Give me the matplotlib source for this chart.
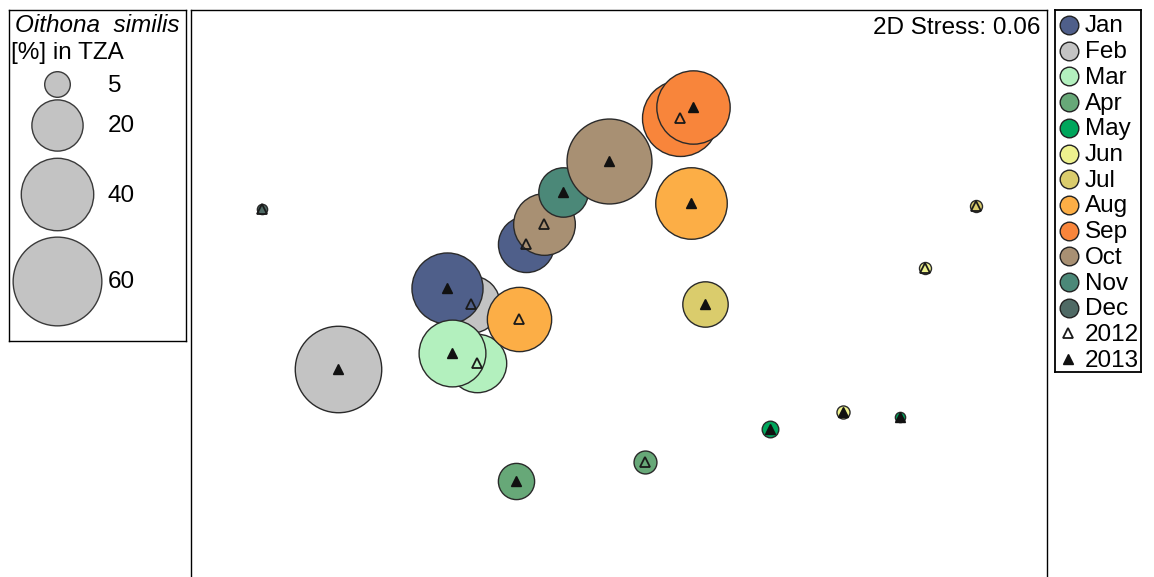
import matplotlib
matplotlib.use("Agg")
import matplotlib.pyplot as plt

plt.rcParams['font.family'] = ['Liberation Sans', 'DejaVu Sans']

# Month colours
months = ["Jan", "Feb", "Mar", "Apr", "May", "Jun",
          "Jul", "Aug", "Sep", "Oct", "Nov", "Dec"]
month_colors = ["#4f5f8a", "#c3c3c3", "#b3f0be", "#67a878", "#00a65c", "#eef28e",
                "#dacc6c", "#fcae46", "#f8853b", "#a89073", "#4b8878", "#4f6a65"]

# NMDS ordination of samples (drawing order)
sample_month = ["Feb", "Jan", "Oct", "Mar", "Aug", "Sep", "Apr", "Jun", "Jul", "Dec",
                "Feb", "Jan", "Mar", "Nov", "Oct", "Sep", "Aug", "Jul", "Apr",
                "May", "Jun", "May"]
sample_year = [2012, 2012, 2012, 2012, 2012, 2012, 2012, 2012, 2012, 2012,
               2013, 2013, 2013, 2013, 2013, 2013, 2013, 2013, 2013,
               2013, 2013, 2013]
nmds1 = [-0.516, -0.296, -0.224, -0.492, -0.324, 0.320, 0.180, 1.300, 1.504, -1.352,
         -1.048, -0.612, -0.592, -0.148, 0.036, 0.372, 0.364, 0.420, -0.336,
         0.680, 0.972, 1.200]
nmds2 = [0.024, 0.264, 0.344, -0.212, -0.036, 0.768, -0.608, 0.168, 0.416, 0.404,
         -0.236, 0.088, -0.172, 0.472, 0.596, 0.812, 0.428, 0.024, -0.684,
         -0.476, -0.408, -0.428]
# Oithona similis share of total zooplankton abundance [%]
oithona_pct = [25, 24, 29, 26, 31.5, 44, 4, 1.1, 1.1, 0.8,
               57, 38.5, 34, 18.6, 55, 41, 39, 15.7, 10,
               2.1, 1.3, 0.8]

size_levels = [5, 20, 40, 60]
stress_text = "2D Stress: 0.06"

SIZE_K = 68.0  # marker area (pt^2) per percent
FS = 17.5


def bubble(v):
    return SIZE_K * v


W, H = 1154, 577
fig = plt.figure(figsize=(W / 100, H / 100), dpi=100)


def px_axes(x0, y0, x1, y1):
    return fig.add_axes([x0 / W, 1 - y1 / H, (x1 - x0) / W, (y1 - y0) / H])


# ---- main ordination panel ----
ax = px_axes(191, 10, 1047, 600)
color_of = dict(zip(months, month_colors))
for m, y, x1, x2, v in zip(sample_month, sample_year, nmds1, nmds2, oithona_pct):
    ax.scatter([x1], [x2], s=bubble(v), c=color_of[m], edgecolors="#2a2a2a",
               linewidths=1.0, zorder=2)
for y, x1, x2 in zip(sample_year, nmds1, nmds2):
    if y == 2012:
        ax.plot([x1], [x2], marker="^", ms=7, mfc="none", mec="#1a1a1a",
                mew=1.3, zorder=3)
    else:
        ax.plot([x1], [x2], marker="^", ms=7, mfc="#111111", mec="#111111",
                mew=1.0, zorder=3)
ax.set_xlim(-1.636, 1.788)
ax.set_ylim(-1.16, 1.2)
ax.set_xticks([])
ax.set_yticks([])
for sp in ax.spines.values():
    sp.set_linewidth(1.0)
ax.text(0.992, 0.9735, stress_text, transform=ax.transAxes, ha="right",
        va="center_baseline", fontsize=FS)

# ---- bubble size key ----
kx = px_axes(9, 10, 186, 341)
kx.set_xlim(9, 186)
kx.set_ylim(341, 10)
kx.set_xticks([])
kx.set_yticks([])
for sp in kx.spines.values():
    sp.set_linewidth(1.0)
kx.text(97, 23, "Oithona  similis", style="italic", ha="center",
        va="center_baseline", fontsize=FS)
kx.text(11, 50, "[%] in TZA", ha="left", va="center_baseline", fontsize=FS)
key_y = [84, 125, 194, 281]
for v, yy in zip(size_levels, key_y):
    kx.scatter([57], [yy], s=bubble(v), c="#c3c3c3", edgecolors="#3a3a3a",
               linewidths=1.0)
    kx.text(108, yy - 1, str(v), ha="left", va="center_baseline", fontsize=FS)

# ---- month / year legend ----
lx = px_axes(1055, 10, 1141, 372)
lx.set_xlim(1055, 1141)
lx.set_ylim(372, 10)
lx.set_xticks([])
lx.set_yticks([])
for sp in lx.spines.values():
    sp.set_linewidth(1.3)
row_y = [25 + i * 25.7 for i in range(14)]
for m, c, yy in zip(months, month_colors, row_y[:12]):
    lx.scatter([1069], [yy], s=180, c=c, edgecolors="#222222", linewidths=1.0)
    lx.text(1085, yy - 1, m, ha="left", va="center_baseline", fontsize=FS)
lx.plot([1068], [row_y[12]], marker="^", ms=7.5, mfc="none", mec="#1a1a1a", mew=1.3)
lx.text(1085, row_y[12] - 1, "2012", ha="left", va="center_baseline", fontsize=FS)
lx.plot([1068], [row_y[13]], marker="^", ms=7.5, mfc="#111111", mec="#111111")
lx.text(1085, row_y[13] - 1, "2013", ha="left", va="center_baseline", fontsize=FS)

fig.savefig("out.png", dpi=100)
